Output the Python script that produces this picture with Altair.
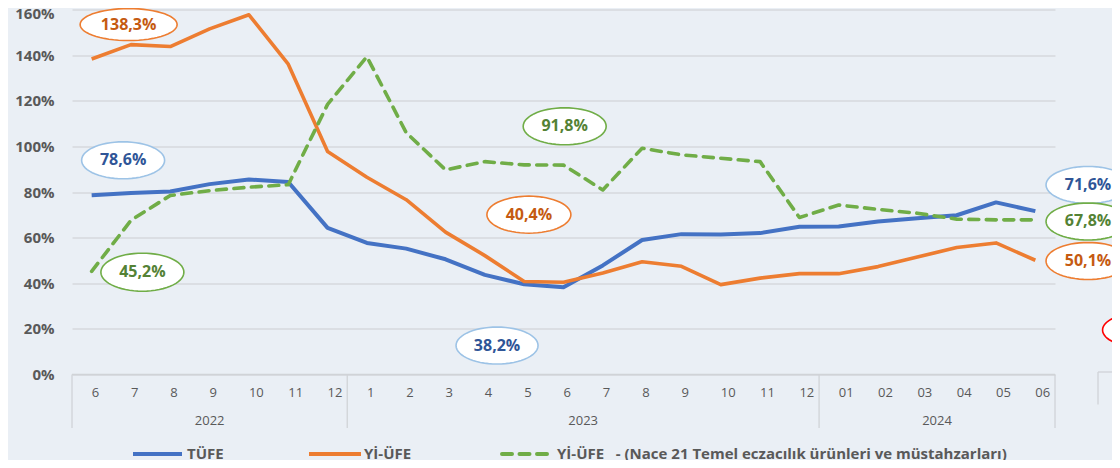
import altair as alt
import pandas as pd
import numpy as np

# ---------------- data ----------------
months = ["6", "7", "8", "9", "10", "11", "12",
          "1", "2", "3", "4", "5", "6", "7", "8", "9", "10", "11", "12",
          "01", "02", "03", "04", "05", "06"]
years = ["2022"] * 7 + ["2023"] * 12 + ["2024"] * 6

tufe = [78.62, 79.60, 80.21, 83.45, 85.51, 84.39, 64.27, 57.68, 55.18, 50.51,
        43.68, 39.59, 38.21, 47.83, 58.94, 61.53, 61.36, 61.98, 64.77, 64.86,
        67.07, 68.50, 69.80, 75.45, 71.60]
yiufe = [138.31, 144.61, 143.75, 151.50, 157.69, 136.02, 97.72, 86.46, 76.61,
         62.43, 52.11, 40.76, 40.42, 44.50, 49.41, 47.44, 39.39, 42.25, 44.22,
         44.20, 47.29, 51.47, 55.66, 57.68, 50.09]
nace21 = [45.2, 67.6, 78.5, 80.6, 82.1, 83.2, 118.4, 139.3, 106.0, 89.7, 93.3,
          91.9, 91.8, 80.9, 99.2, 96.3, 94.8, 93.3, 68.8, 74.3, 72.4, 70.7,
          68.1, 67.8, 67.8]

series_names = ["TÜFE", "Yİ-ÜFE",
                "Yİ-ÜFE  - (Nace 21 Temel eczacılık ürünleri ve müstahzarları)"]
y_ticks = [0, 20, 40, 60, 80, 100, 120, 140, 160]

# annotation bubbles (label, x in month index units, y in %)
ann_text = ["138,3%", "78,6%", "45,2%", "91,8%", "40,4%", "38,2%",
            "71,6%", "67,8%", "50,1%", ""]
ann_x = [0.94, 0.80, 1.29, 12.03, 11.12, 10.31, 25.34, 25.34, 25.34, 26.6]
ann_y = [153.4, 93.9, 44.85, 108.8, 70.06, 12.7, 83.1, 67.07, 49.76, 19.5]
ann_kind = ["o", "b", "g", "g", "o", "b", "b", "g", "o", "r"]

# ---------------- styles ----------------
C_BLUE, C_ORANGE, C_GREEN = "#4472C4", "#ED7D31", "#70AD47"
TEXT_COL = {"o": "#C55A11", "b": "#2F5597", "g": "#548235", "r": "#FF0000"}
EDGE_COL = {"o": "#ED7D31", "b": "#9DC3E6", "g": "#70AD47", "r": "#FF0000"}
ELL_W = [97, 83, 83, 83, 84, 82, 84, 84, 84, 70]
ELL_H = [32, 37, 38, 37, 37, 37, 37, 37, 37, 33]
GRAY = "#595959"
LINE_GRAY = "#D0D3D7"
BG = "#EAEFF5"

W, H = 983, 365
xscale = alt.Scale(domain=[-0.5, 24.5], nice=False, zero=False)
yscale = alt.Scale(domain=[0, 160], nice=False, zero=True)
yax = alt.Axis(values=y_ticks, labelExpr="datum.value + '%'", grid=True,
               gridColor="#D6D9DD", gridWidth=1.3, domain=False, ticks=False,
               labelPadding=18, labelFont="Open Sans", labelFontWeight="bold",
               labelFontSize=15, labelColor=GRAY, title=None,
               labelOffset={"condition": {"test": "datum.value == 160", "value": 3.5},
                            "value": 0})


def ellipse_path(ratio, n=60):
    t = np.linspace(0, 2 * np.pi, n, endpoint=False)
    pts = [f"{np.cos(a):.4f},{ratio * np.sin(a):.4f}" for a in t]
    return "M" + " L".join(pts) + " Z"


def line_layer(vals, color, width, dash=None):
    d = pd.DataFrame({"idx": list(range(len(vals))), "v": vals})
    kw = dict(color=color, strokeWidth=width, strokeJoin="round")
    if dash:
        kw["strokeDash"] = dash
        kw["strokeCap"] = "round"
    return alt.Chart(d).mark_line(**kw).encode(
        x=alt.X("idx:Q", scale=xscale, axis=None),
        y=alt.Y("v:Q", scale=yscale, axis=yax),
    )


layers = []

# grid carrier
grid_df = pd.DataFrame({"v": y_ticks})
layers.append(alt.Chart(grid_df).mark_point(opacity=0).encode(
    y=alt.Y("v:Q", scale=yscale, axis=yax)))

# x axis line
one = pd.DataFrame({"a": [0]})
layers.append(alt.Chart(one).mark_rule(
    color=LINE_GRAY, strokeWidth=1.3).encode(
    x=alt.value(0), x2=alt.value(W), y=alt.value(H)))

# year separators
bounds = [-0.5] + [i - 0.5 for i in range(1, len(years)) if years[i] != years[i - 1]] + [len(years) - 0.5]
layers.append(alt.Chart(pd.DataFrame({"b": bounds})).mark_rule(
    color=LINE_GRAY, strokeWidth=1.3).encode(
    x=alt.X("b:Q", scale=xscale, axis=None),
    y=alt.value(H), y2=alt.value(H + 53.5)))

# fragment of the neighbouring chart's axis box at the right edge
layers.append(alt.Chart(one).mark_rule(color=LINE_GRAY, strokeWidth=1.3).encode(
    x=alt.value(W + 43), x2=alt.value(W + 60), y=alt.value(H - 2.5)))
layers.append(alt.Chart(one).mark_rule(color=LINE_GRAY, strokeWidth=1.3).encode(
    x=alt.value(W + 43), y=alt.value(H - 2.5), y2=alt.value(H + 30)))

# month labels
mdf = pd.DataFrame({"idx": list(range(len(months))), "m": months})
layers.append(alt.Chart(mdf).mark_text(
    align="left", baseline="middle", font="Open Sans", fontSize=13,
    color=GRAY).encode(
    x=alt.X("idx:Q", scale=xscale, axis=None), y=alt.value(H + 18.5),
    text="m:N"))

# year labels
ydf = pd.DataFrame({"idx": list(range(len(years))), "yr": years}).groupby(
    "yr", as_index=False)["idx"].mean()
layers.append(alt.Chart(ydf).mark_text(
    align="center", baseline="middle", font="Open Sans", fontSize=13,
    color=GRAY).encode(
    x=alt.X("idx:Q", scale=xscale, axis=None), y=alt.value(H + 46),
    text="yr:N"))

# series lines
layers.append(line_layer(tufe, C_BLUE, 4))
layers.append(line_layer(yiufe, C_ORANGE, 3.6))
layers.append(line_layer(nace21, C_GREEN, 3.6, dash=[10, 7.5]))

# annotation bubbles
adf = pd.DataFrame({
    "x": ann_x, "y": ann_y, "t": ann_text,
    "shape": [ellipse_path(h / w) for w, h in zip(ELL_W, ELL_H)],
    "size": [w * w for w in ELL_W],
    "edge": [EDGE_COL[k] for k in ann_kind],
    "tc": [TEXT_COL[k] for k in ann_kind],
})
layers.append(alt.Chart(adf).mark_point(filled=False, fill="white",
                                         fillOpacity=1, strokeWidth=1.6,
                                         opacity=1).encode(
    x=alt.X("x:Q", scale=xscale, axis=None),
    y=alt.Y("y:Q", scale=yscale, axis=yax),
    shape=alt.Shape("shape:N", scale=None),
    size=alt.Size("size:Q", scale=None),
    stroke=alt.Stroke("edge:N", scale=None),
))
layers.append(alt.Chart(adf).mark_text(
    font="Open Sans", fontWeight="bold", fontSize=16, baseline="middle",
    align="center").encode(
    x=alt.X("x:Q", scale=xscale, axis=None),
    y=alt.Y("y:Q", scale=yscale, axis=yax),
    text="t:N",
    color=alt.Color("tc:N", scale=None),
))

# legend (manual, bottom)
leg_y = 444.5
leg_items = [(series_names[0], C_BLUE, None, 61, 110, 115),
             (series_names[1], C_ORANGE, None, 237, 289, 292),
             (series_names[2], C_GREEN, [10, 7.5], 430, 481, 485)]
for name, col, dash, x0, x1, tx in leg_items:
    kw = dict(color=col, strokeWidth=4)
    if dash:
        kw["strokeDash"] = dash
        kw["strokeCap"] = "round"
    layers.append(alt.Chart(one).mark_rule(**kw).encode(
        x=alt.value(x0), x2=alt.value(x1), y=alt.value(leg_y)))
    layers.append(alt.Chart(one).mark_text(
        align="left", baseline="middle", font="Open Sans", fontWeight="bold",
        fontSize=15, color=GRAY, text=name.replace("  ", "\u00a0\u00a0\u00a0")).encode(
        x=alt.value(tx), y=alt.value(leg_y - 0.5)))

chart = alt.layer(*layers).properties(
    width=W, height=H,
    padding={"left": 64, "top": 1.5, "right": 57, "bottom": 85.5},
    autosize="none",
    background=BG,
).configure_view(stroke=None)

chart.save("out.html", embed_options={"renderer": "svg", "actions": False})
